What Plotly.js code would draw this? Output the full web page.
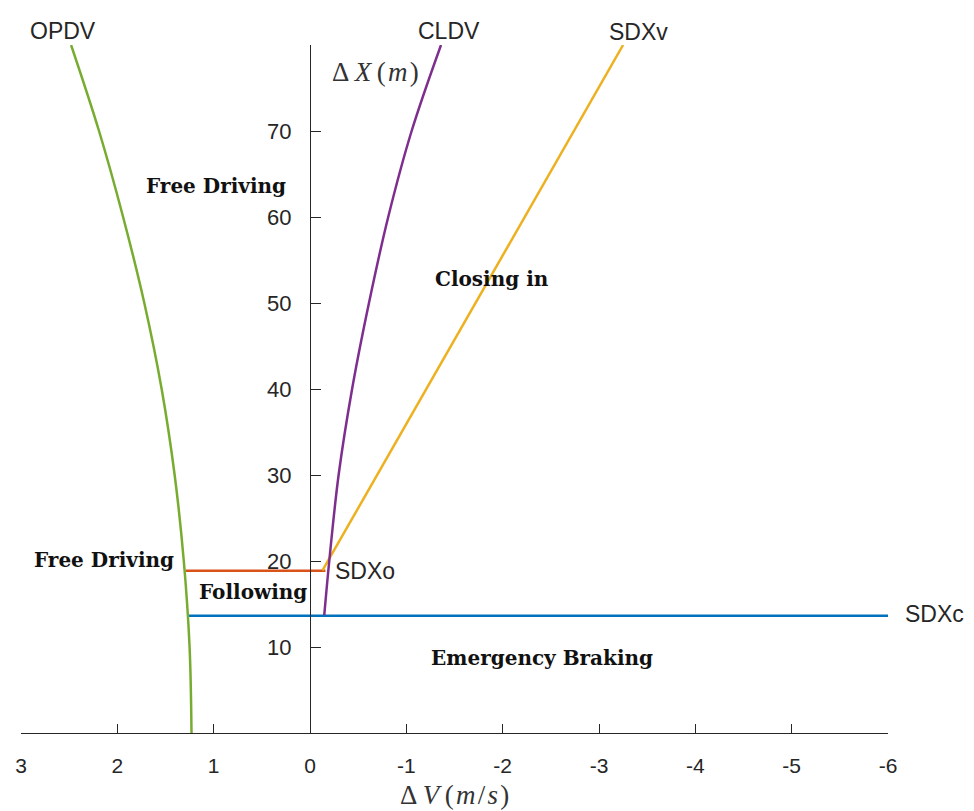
<!DOCTYPE html>
<html>
<head>
<meta charset="utf-8">
<script src="https://cdn.plot.ly/plotly-3.0.1.min.js"></script>
<style>html,body{margin:0;padding:0;background:#fff;}#chart{width:974px;height:811px;}</style>
</head>
<body>
<div id="chart"></div>
<script>
// ---- data ----
const opdvDX = [0, 10, 20, 30, 40, 50, 60, 70, 80];
const opdvDV = [1.23, 1.25, 1.31, 1.405, 1.54, 1.72, 1.94, 2.19, 2.48];

const cldvDX = [13.7, 20, 30, 40, 50, 60, 70, 80];
const cldvDV = [-0.148, -0.20, -0.297, -0.437, -0.612, -0.812, -1.055, -1.36];

const sdxvDX = [18.9, 80];
const sdxvDV = [-0.13, -3.25];

const sdxoDX = [18.86, 18.86];
const sdxoDV = [1.29, -0.16];

const sdxcDX = [13.64, 13.64];
const sdxcDV = [1.27, -6];

const xTicks = [3, 2, 1, 0, -1, -2, -3, -4, -5, -6];
const xTickText = ['3', '2', '1', '0', '-1', '-2', '-3', '-4', '-5', '-6'];
const yTicks = [10, 20, 30, 40, 50, 60, 70, 80];
const yTickText = ['10', '20', '30', '40', '50', '60', '70', ''];

const curveLabels = ['OPDV', 'CLDV', 'SDXv', 'SDXo', 'SDXc'];
const regionLabels = ['Free Driving', 'Closing in', 'Free Driving', 'Following', 'Emergency Braking'];

// ---- traces ----
const lw = 2.5;
const traces = [
  {x: sdxcDV, y: sdxcDX, mode: 'lines', line: {color: '#0072BD', width: lw}},
  {x: sdxoDV, y: sdxoDX, mode: 'lines', line: {color: '#D95319', width: lw}},
  {x: sdxvDV, y: sdxvDX, mode: 'lines', line: {color: '#EDB120', width: lw}},
  {x: cldvDV, y: cldvDX, mode: 'lines', line: {color: '#7E2F8E', width: lw, shape: 'spline', smoothing: 1}},
  {x: opdvDV, y: opdvDX, mode: 'lines', line: {color: '#77AC30', width: lw, shape: 'spline', smoothing: 1}}
];

const sansLbl = {family: 'Liberation Sans, Arial, sans-serif', size: 23, color: '#262626'};
const boldLbl = {family: 'DejaVu Serif, serif', size: 20, color: '#111'};
const mathFont = {family: 'Liberation Serif, Times New Roman, serif', size: 27, color: '#333'};
const hs = '\u200A';
const th = '\u2009';

const P = {xref: 'paper', yref: 'paper'};
const annotations = [
  Object.assign({x: 0.0479, y: 1.0208, text: curveLabels[0], font: sansLbl, xanchor: 'center'}, P),
  Object.assign({x: 0.4931, y: 1.0208, text: curveLabels[1], font: sansLbl, xanchor: 'center'}, P),
  Object.assign({x: 0.7128, y: 1.0194, text: curveLabels[2], font: sansLbl, xanchor: 'center'}, P),
  {x: -0.239, y: 18.82, text: curveLabels[3], font: sansLbl, xanchor: 'left'},
  Object.assign({x: 1.0173, y: 0.1729, text: curveLabels[4], font: sansLbl, xanchor: 'left'}, P),
  {x: 0.976, y: 63.6, text: '<b>' + regionLabels[0] + '</b>', font: boldLbl, xanchor: 'center'},
  {x: -1.889, y: 52.8, text: '<b>' + regionLabels[1] + '</b>', font: boldLbl, xanchor: 'center'},
  {x: 2.142, y: 20.1, text: '<b>' + regionLabels[2] + '</b>', font: boldLbl, xanchor: 'center'},
  {x: 0.587, y: 16.4, text: '<b>' + regionLabels[3] + '</b>', font: boldLbl, xanchor: 'center'},
  {x: -2.412, y: 8.7, text: '<b>' + regionLabels[4] + '</b>', font: boldLbl, xanchor: 'center'},
  {x: -0.21, y: 76.9, text: 'Δ' + th + '<i>X</i>' + th + '(' + hs + '<i>m</i>' + hs + ')', font: mathFont, xanchor: 'left'},
  Object.assign({x: 0.5, y: -0.09, text: 'Δ' + th + '<i>V</i>' + th + '(' + hs + '<i>m</i>' + hs + '/' + hs + '<i>s</i>' + hs + ')', font: mathFont, xanchor: 'center', yanchor: 'middle'}, P)
].map(a => Object.assign({xref: 'x', yref: 'y', showarrow: false, yanchor: 'middle'}, a));

const layout = {
  width: 974, height: 811,
  margin: {l: 21, r: 86, t: 45, b: 78, pad: 0},
  paper_bgcolor: '#fff', plot_bgcolor: '#fff',
  showlegend: false,
  xaxis: {
    range: [3, -6], domain: [0, 1],
    tickvals: xTicks, ticktext: xTickText,
    ticks: 'inside', ticklen: 9, tickwidth: 1, tickcolor: '#262626',
    showline: true, linecolor: '#262626', linewidth: 1.2,
    showgrid: false, zeroline: false,
    tickfont: {family: 'Liberation Sans Narrow, Liberation Sans, Arial, sans-serif', size: 21, color: '#262626'},
    ticklabelstandoff: 14
  },
  yaxis: {
    range: [0, 80], anchor: 'free', position: 1/3,
    tickvals: yTicks, ticktext: yTickText,
    ticks: 'inside', ticklen: 10, tickwidth: 1, tickcolor: '#262626',
    showline: true, linecolor: '#262626', linewidth: 1.2,
    showgrid: false, zeroline: false,
    tickfont: {family: 'Liberation Sans, Arial, sans-serif', size: 22, color: '#262626'},
    ticklabelstandoff: 14
  },
  annotations: annotations
};

Plotly.newPlot('chart', traces, layout, {staticPlot: true, displayModeBar: false});
</script>
</body>
</html>
